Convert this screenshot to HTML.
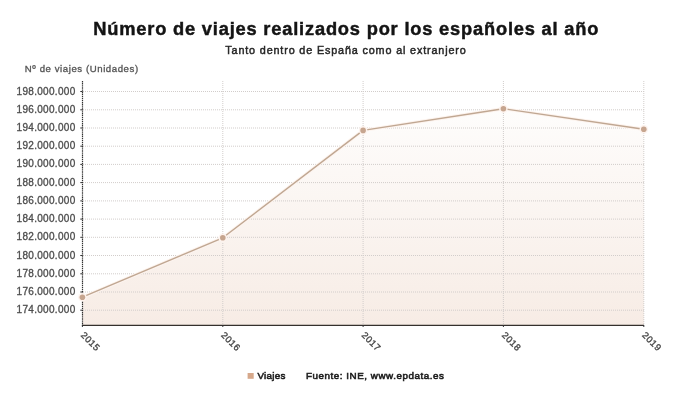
<!DOCTYPE html>
<html><head><meta charset="utf-8"><style>
html,body{margin:0;padding:0;background:#fff;width:690px;height:406px;overflow:hidden}
svg{display:block;will-change:transform;font-family:"Liberation Sans",sans-serif}
.g{stroke:#d2cdcb;stroke-width:1;stroke-dasharray:1 1}
.t{stroke:#333;stroke-width:1}
.yl{font-size:10px;fill:#4d4d4d;stroke:#4d4d4d;stroke-width:0.32px;text-anchor:end;letter-spacing:0.3px}
.xl{font-size:9.3px;fill:#464646;stroke:#464646;stroke-width:0.35px;letter-spacing:0.5px}
.d{fill:#c6a58f}
</style></head><body>
<svg width="690" height="406" viewBox="0 0 690 406">
<defs><linearGradient id="fg" gradientUnits="userSpaceOnUse" x1="0" y1="108" x2="0" y2="325">
<stop offset="0" stop-color="#fefdfc"/><stop offset="1" stop-color="#f7ece5"/></linearGradient></defs>
<text x="93.3" y="34.6" style="font-size:18.3px;font-weight:bold;fill:#141414;stroke:#141414;stroke-width:0.45px;letter-spacing:0.8px">Número de viajes realizados por los españoles al año</text>
<text x="225.3" y="54.3" style="font-size:10.8px;fill:#262626;stroke:#262626;stroke-width:0.45px;letter-spacing:0.85px">Tanto dentro de España como al extranjero</text>
<text x="24.8" y="71.9" style="font-size:9.6px;fill:#555;stroke:#555;stroke-width:0.32px;letter-spacing:0.58px">Nº de viajes (Unidades)</text>
<path d="M82.4,325 L82.4,297.2 L222.8,237.8 L363.1,130.4 L503.4,108.7 L643.8,129.2 L643.8,325 Z" fill="url(#fg)"/>
<line x1="83" y1="91.5" x2="644" y2="91.5" class="g"/><line x1="83" y1="109.8" x2="644" y2="109.8" class="g"/><line x1="83" y1="128.0" x2="644" y2="128.0" class="g"/><line x1="83" y1="146.2" x2="644" y2="146.2" class="g"/><line x1="83" y1="164.4" x2="644" y2="164.4" class="g"/><line x1="83" y1="182.6" x2="644" y2="182.6" class="g"/><line x1="83" y1="200.9" x2="644" y2="200.9" class="g"/><line x1="83" y1="219.1" x2="644" y2="219.1" class="g"/><line x1="83" y1="237.3" x2="644" y2="237.3" class="g"/><line x1="83" y1="255.5" x2="644" y2="255.5" class="g"/><line x1="83" y1="273.8" x2="644" y2="273.8" class="g"/><line x1="83" y1="292.0" x2="644" y2="292.0" class="g"/><line x1="83" y1="310.2" x2="644" y2="310.2" class="g"/><line x1="222.8" y1="81" x2="222.8" y2="325" class="g"/><line x1="363.1" y1="81" x2="363.1" y2="325" class="g"/><line x1="503.4" y1="81" x2="503.4" y2="325" class="g"/><line x1="643.8" y1="81" x2="643.8" y2="325" class="g"/>
<line x1="82.5" y1="81" x2="82.5" y2="326.5" stroke="#333" stroke-width="1.2" stroke-dasharray="1.4 0.7"/>
<line x1="82" y1="325.3" x2="644" y2="325.3" stroke="#35302d" stroke-width="1.3"/>
<line x1="80.3" y1="91.5" x2="82.5" y2="91.5" class="t"/><line x1="80.3" y1="109.8" x2="82.5" y2="109.8" class="t"/><line x1="80.3" y1="128.0" x2="82.5" y2="128.0" class="t"/><line x1="80.3" y1="146.2" x2="82.5" y2="146.2" class="t"/><line x1="80.3" y1="164.4" x2="82.5" y2="164.4" class="t"/><line x1="80.3" y1="182.6" x2="82.5" y2="182.6" class="t"/><line x1="80.3" y1="200.9" x2="82.5" y2="200.9" class="t"/><line x1="80.3" y1="219.1" x2="82.5" y2="219.1" class="t"/><line x1="80.3" y1="237.3" x2="82.5" y2="237.3" class="t"/><line x1="80.3" y1="255.5" x2="82.5" y2="255.5" class="t"/><line x1="80.3" y1="273.8" x2="82.5" y2="273.8" class="t"/><line x1="80.3" y1="292.0" x2="82.5" y2="292.0" class="t"/><line x1="80.3" y1="310.2" x2="82.5" y2="310.2" class="t"/><line x1="82.4" y1="325" x2="82.4" y2="327" class="t"/><line x1="222.8" y1="325" x2="222.8" y2="327" class="t"/><line x1="363.1" y1="325" x2="363.1" y2="327" class="t"/><line x1="503.4" y1="325" x2="503.4" y2="327" class="t"/><line x1="643.8" y1="325" x2="643.8" y2="327" class="t"/>
<text x="75.5" y="94.60" class="yl">198.000.000</text><text x="75.5" y="112.82" class="yl">196.000.000</text><text x="75.5" y="131.04" class="yl">194.000.000</text><text x="75.5" y="149.26" class="yl">192.000.000</text><text x="75.5" y="167.48" class="yl">190.000.000</text><text x="75.5" y="185.70" class="yl">188.000.000</text><text x="75.5" y="203.92" class="yl">186.000.000</text><text x="75.5" y="222.14" class="yl">184.000.000</text><text x="75.5" y="240.36" class="yl">182.000.000</text><text x="75.5" y="258.58" class="yl">180.000.000</text><text x="75.5" y="276.80" class="yl">178.000.000</text><text x="75.5" y="295.02" class="yl">176.000.000</text><text x="75.5" y="313.24" class="yl">174.000.000</text>
<polyline points="82.4,297.2 222.8,237.8 363.1,130.4 503.4,108.7 643.8,129.2" fill="none" stroke="#fdf4ef" stroke-width="3.4" stroke-linejoin="round"/><polyline points="82.4,297.2 222.8,237.8 363.1,130.4 503.4,108.7 643.8,129.2" fill="none" stroke="#c0a792" stroke-width="1.4" stroke-linejoin="round"/>
<circle cx="82.4" cy="297.2" r="4.3" fill="#fdf3ee"/><circle cx="82.4" cy="297.2" r="2.8" class="d"/><circle cx="222.8" cy="237.8" r="4.3" fill="#fdf3ee"/><circle cx="222.8" cy="237.8" r="2.8" class="d"/><circle cx="363.1" cy="130.4" r="4.3" fill="#fdf3ee"/><circle cx="363.1" cy="130.4" r="2.8" class="d"/><circle cx="503.4" cy="108.7" r="4.3" fill="#fdf3ee"/><circle cx="503.4" cy="108.7" r="2.8" class="d"/><circle cx="643.8" cy="129.2" r="4.3" fill="#fdf3ee"/><circle cx="643.8" cy="129.2" r="2.8" class="d"/>
<text transform="translate(80.2,335.7) rotate(45)" class="xl">2015</text><text transform="translate(220.6,335.7) rotate(45)" class="xl">2016</text><text transform="translate(360.9,335.7) rotate(45)" class="xl">2017</text><text transform="translate(501.2,335.7) rotate(45)" class="xl">2018</text><text transform="translate(641.6,335.7) rotate(45)" class="xl">2019</text>
<rect x="247.6" y="373" width="6.1" height="5.8" fill="#d6a88b"/>
<text x="257.4" y="379.2" style="font-size:9.8px;fill:#1e1e1e;stroke:#1e1e1e;stroke-width:0.6px;letter-spacing:0.3px">Viajes</text>
<text x="306" y="379.2" style="font-size:9.8px;fill:#1e1e1e;stroke:#1e1e1e;stroke-width:0.6px;letter-spacing:0.55px">Fuente: INE, www.epdata.es</text>
</svg>
</body></html>
